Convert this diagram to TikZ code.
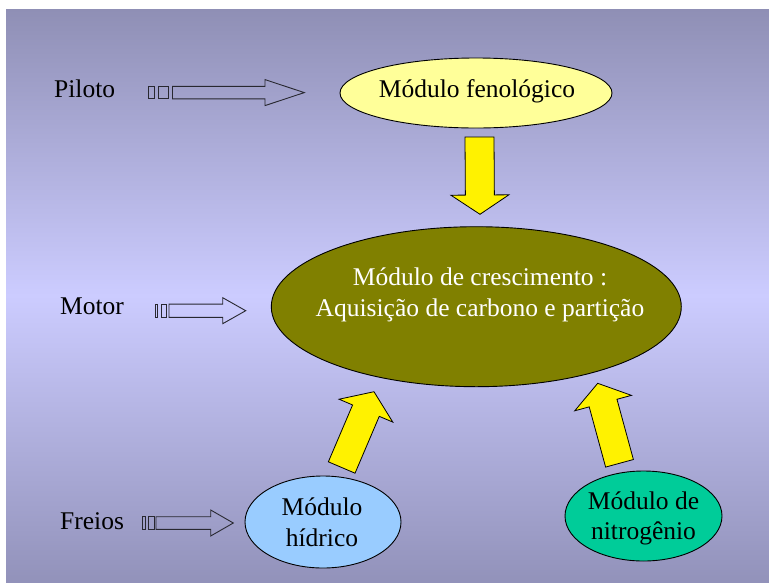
\documentclass[tikz,border=0pt]{standalone}
\usepackage{fontspec}
\setmainfont{Liberation Serif}
\usetikzlibrary{shapes.geometric,calc}
\definecolor{bgtop}{RGB}{143,143,181}
\definecolor{bgmid}{RGB}{204,204,255}
\definecolor{bgbot}{RGB}{146,146,186}
\definecolor{fenfill}{RGB}{255,255,153}
\definecolor{crefill}{RGB}{128,128,0}
\definecolor{hidfill}{RGB}{153,204,255}
\definecolor{nitfill}{RGB}{0,204,153}
\definecolor{hollowline}{RGB}{40,40,48}
\newcommand\blockarrow[6]{% style, tail, tip, shaft half width, head half width, head length
  \coordinate (ba-h) at ($(#3)!#6!(#2)$);
  \draw[#1] ($(#2)!#4!90:(#3)$) -- ($(ba-h)!#4!-90:(#2)$) -- ($(ba-h)!#5!-90:(#2)$) -- (#3)
    -- ($(ba-h)!#5!90:(#2)$) -- ($(ba-h)!#4!90:(#2)$) -- ($(#2)!#4!-90:(#3)$) -- cycle;
}
\tikzset{
  module/.style={ellipse, draw=black, line width=0.9pt, inner sep=0pt, outer sep=0pt},
  txt/.style={font=\fontsize{25.5}{30.5}\selectfont, inner sep=0pt, align=center},
  label text/.style={font=\fontsize{25.5}{30.5}\selectfont, inner sep=0pt},
  yellowarrow/.style={fill=yellow, draw=black, line width=0.8pt, line join=miter},
  hollow/.style={draw=hollowline, line width=0.9pt, line join=miter},
}
\begin{document}
\begin{tikzpicture}[x=1pt,y=-1pt]
\useasboundingbox (0,0) rectangle (769,582);
\shade[top color=bgtop, bottom color=bgbot, middle color=bgmid] (6,9) rectangle (769,582);

% modules
\node[module, fill=fenfill, minimum width=272pt, minimum height=70pt] (fen) at (476,93) {};
\node[txt] (fen-t) at (477,91) {Módulo fenológico};

\node[module, fill=crefill, minimum width=410pt, minimum height=160pt] (cre) at (476.3,306.7) {};
\node[txt, text=white, font=\fontsize{25.5}{31}\selectfont] (cre-t) at (480,295) {Módulo de crescimento :\\Aquisição de carbono e partição};

\node[module, fill=hidfill, minimum width=156pt, minimum height=92pt] (hid) at (323,522) {};
\node[txt] (hid-t) at (322,522.5) {Módulo\\hídrico};

\node[module, fill=nitfill, minimum width=157pt, minimum height=90pt] (nit) at (643.5,516) {};
\node[txt] (nit-t) at (643.5,518.5) {Módulo de\\nitrogênio};

% side labels
\node[label text, anchor=base west] (piloto) at (54,97) {Piloto};
\node[label text, anchor=base west] (motor) at (60,314) {Motor};
\node[label text, anchor=base west] (freios) at (60,529) {Freios};

% yellow arrows
\coordinate (a1-tail) at (479.5,137);
\coordinate (a1-tip) at (480,214.3);
\blockarrow{yellowarrow}{a1-tail}{a1-tip}{14.5pt}{29pt}{19.3pt}
\coordinate (a2-tail) at (341.7,467.5);
\coordinate (a2-tip) at (374,391.7);
\blockarrow{yellowarrow}{a2-tail}{a2-tip}{14.5pt}{29.2pt}{20.6pt}
\coordinate (a3-tail) at (619.5,463.3);
\coordinate (a3-tip) at (597.7,383.3);
\blockarrow{yellowarrow}{a3-tail}{a3-tip}{14.4pt}{29.4pt}{20.5pt}

% hollow arrows
\coordinate (p-tail) at (172.5,92.6);
\coordinate (p-tip) at (304.3,92.6);
\blockarrow{hollow}{p-tail}{p-tip}{6.2pt}{13pt}{39.3pt}
\draw[hollow] (148.3,86.4) rectangle (154.3,98.8);
\draw[hollow] (158.3,86.4) rectangle (168.3,98.8);

\coordinate (m-tail) at (169,310.7);
\coordinate (m-tip) at (245.7,310.7);
\blockarrow{hollow}{m-tail}{m-tip}{6.6pt}{13pt}{23pt}
\draw[hollow] (155,304.1) rectangle (157.7,317.3);
\draw[hollow] (161,304.1) rectangle (166.7,317.3);

\coordinate (f-tail) at (156,523);
\coordinate (f-tip) at (233.3,523);
\blockarrow{hollow}{f-tail}{f-tip}{6.3pt}{13pt}{22.6pt}
\draw[hollow] (142.3,516.7) rectangle (145.7,529.3);
\draw[hollow] (148,516.7) rectangle (154,529.3);
\end{tikzpicture}
\end{document}
